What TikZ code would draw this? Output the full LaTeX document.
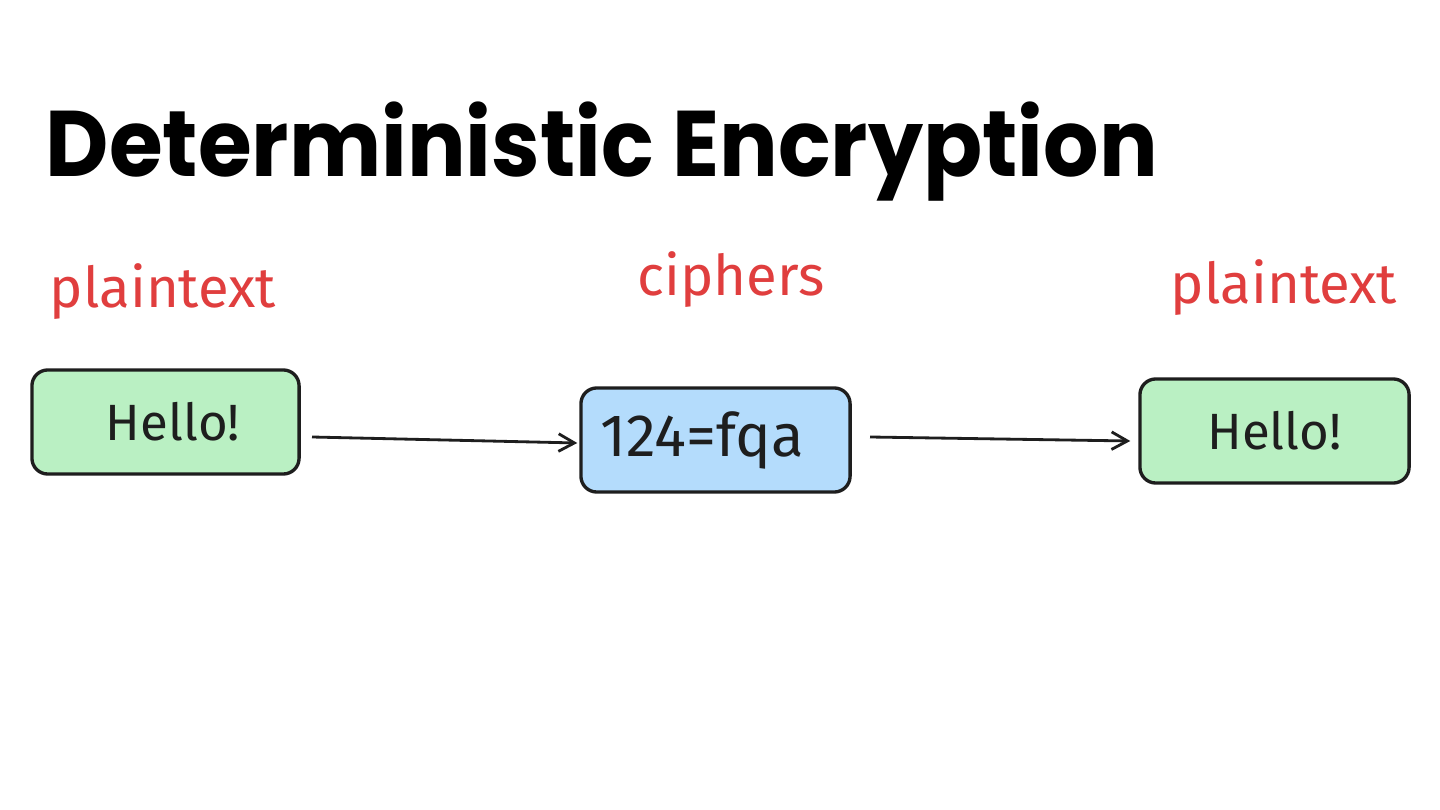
\documentclass[tikz,border=0pt]{standalone}
\usepackage{fontspec}
\setmainfont{Poppins}
\newfontfamily\handfont{Fira Sans}
\usetikzlibrary{arrows.meta,calc}
\definecolor{inkc}{HTML}{1E1E1E}
\definecolor{redc}{HTML}{E03E3E}
\definecolor{greenc}{HTML}{BAF0C3}
\definecolor{bluec}{HTML}{B4DCFC}
\tikzset{
  box/.style={draw=inkc, line width=0.95pt, rounded corners=4.5pt, minimum height=1.04cm, inner sep=0pt, text=inkc, font=\handfont\fontsize{14.5}{16}\selectfont},
  greenbox/.style={box, fill=greenc},
  bluebox/.style={box, fill=bluec},
  lab/.style={text=redc, font=\handfont\fontsize{16}{18}\selectfont, inner sep=0pt},
  conn/.style={draw=inkc, line width=0.8pt, -{Straight Barb[length=4.5pt,width=5pt]}},
}
\begin{document}
\begin{tikzpicture}[x=0.01cm,y=-0.01cm]
\path[use as bounding box, fill=white] (0,0) rectangle (1440,810);
\node[anchor=base west, inner sep=0pt, font=\bfseries\fontsize{26.5}{30}\selectfont] (title) at (45,177) {\scalebox{0.935}[1]{Deterministic Encryption}};
\node[lab] (l1) at (163,292) {plaintext};
\node[lab] (l2) at (731,280) {ciphers};
\node[lab] (l3) at (1284,288) {plaintext};
\node[greenbox, minimum width=2.67cm] (b1) at (165.5,422) {\hspace*{0.15cm}Hello!};
\node[bluebox, minimum width=2.69cm, text width=2.3cm, align=left, font=\handfont\fontsize{17}{18}\selectfont] (b2) at (715.5,440) {124=fqa};
\node[greenbox, minimum width=2.69cm] (b3) at (1274.5,431) {Hello!};
\coordinate (a1s) at (312,437);
\coordinate (a2s) at (870,437);
\draw[conn] (a1s) -- ($(b2.west)+(-2,3)$);
\draw[conn] (a2s) -- ($(b3.west)+(-8,10)$);
\end{tikzpicture}
\end{document}
